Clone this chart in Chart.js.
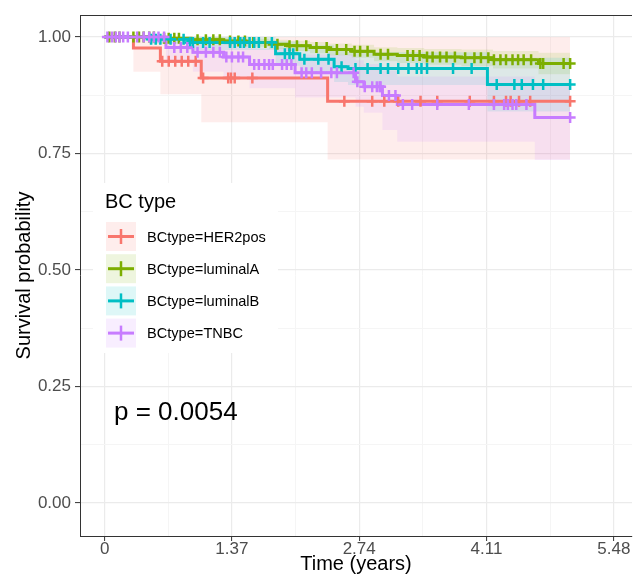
<!DOCTYPE html>
<html>
<head>
<meta charset="utf-8">
<script src="https://cdn.jsdelivr.net/npm/chart.js@4.4.1/dist/chart.umd.min.js"></script>
<style>
  html, body { margin: 0; padding: 0; background: #fff; }
</style>
</head>
<body>
<canvas id="km" width="640" height="574"></canvas>
<script>
const FONT = '"Liberation Sans", Arial, sans-serif';

// tick labels
const xTicks = [0, 1.37, 2.74, 4.11, 5.48];
const yTicks = [0, 0.25, 0.5, 0.75, 1];

// HER2pos
const her2Time  = [0, 0.31, 0.60, 1.04, 2.40, 5.01];
const her2Surv  = [1, 0.976, 0.948, 0.912, 0.862, 0.862];
const her2Lower = [1, 0.925, 0.877, 0.817, 0.737, 0.737];
const her2Upper = [1, 1, 1, 1, 1, 1];
const her2Censor = [0.62, 0.69, 0.76, 0.83, 0.90, 0.98, 1.06, 1.33, 1.36, 1.40, 1.59, 2.58, 2.88, 3.01,
  3.16, 3.40, 3.58, 3.93, 4.19, 4.32, 4.37, 4.46, 4.58, 5.01];

// luminalA
const lumATime  = [0, 0.59, 0.93, 1.28, 1.52, 1.77, 1.97, 2.21, 2.41, 2.66, 2.90, 3.15, 3.44, 3.84, 4.18, 4.67, 5.01];
const lumASurv  = [1, 0.997, 0.994, 0.991, 0.988, 0.984, 0.981, 0.977, 0.973, 0.969, 0.963, 0.960, 0.957, 0.955, 0.951, 0.943, 0.943];
const lumALower = [1, 0.993, 0.988, 0.983, 0.979, 0.974, 0.970, 0.965, 0.960, 0.955, 0.948, 0.944, 0.940, 0.937, 0.932, 0.920, 0.920];
const lumAUpper = [1, 1, 1, 0.998, 0.996, 0.994, 0.992, 0.989, 0.986, 0.983, 0.978, 0.976, 0.974, 0.973, 0.970, 0.966, 0.966];
const lumACensor = [0.05, 0.11, 0.16, 0.31, 0.37, 0.42, 0.48, 0.53, 0.64, 0.69, 0.75, 0.80, 1.00, 1.09, 1.17,
  1.24, 1.35, 1.44, 1.51, 1.60, 1.73, 1.86, 1.99, 2.07, 2.17, 2.28, 2.39, 2.50, 2.60, 2.69, 2.75, 2.83, 2.97,
  3.05, 3.26, 3.32, 3.39, 3.47, 3.53, 3.61, 3.68, 3.77, 3.88, 3.98, 4.05, 4.13, 4.19, 4.26, 4.32, 4.39, 4.45,
  4.51, 4.59, 4.69, 4.72, 4.94, 5.01];

// luminalB
const lumBTime  = [0, 0.48, 0.90, 1.84, 2.10, 2.47, 2.62, 4.12, 5.01];
const lumBSurv  = [1, 0.995, 0.988, 0.964, 0.952, 0.936, 0.932, 0.898, 0.898];
const lumBLower = [1, 0.985, 0.972, 0.938, 0.922, 0.903, 0.897, 0.840, 0.840];
const lumBUpper = [1, 1, 1, 0.990, 0.982, 0.970, 0.967, 0.955, 0.955];
const lumBCensor = [0.50, 0.55, 0.60, 0.71, 0.85, 0.92, 0.95, 1.06, 1.13, 1.35, 1.40, 1.46, 1.50, 1.56, 1.61,
  1.66, 1.80, 1.94, 1.99, 2.03, 2.15, 2.30, 2.41, 2.55, 2.70, 2.83, 2.97, 3.05, 3.16, 3.27, 3.36, 3.41, 3.47,
  3.75, 3.95, 4.22, 4.41, 4.49, 4.61, 4.72, 5.01];

// TNBC
const tnbcTime  = [0, 0.66, 0.95, 1.28, 1.56, 2.05, 2.70, 2.79, 2.99, 3.15, 4.63, 5.01];
const tnbcSurv  = [1, 0.977, 0.967, 0.957, 0.941, 0.923, 0.904, 0.893, 0.874, 0.855, 0.827, 0.827];
const tnbcLower = [1, 0.945, 0.925, 0.910, 0.890, 0.870, 0.850, 0.837, 0.800, 0.775, 0.736, 0.736];
const tnbcUpper = [1, 0.995, 0.990, 0.985, 0.975, 0.962, 0.950, 0.942, 0.928, 0.915, 0.895, 0.895];
const tnbcCensor = [0.03, 0.08, 0.12, 0.16, 0.20, 0.25, 0.35, 0.42, 0.48, 0.53, 0.58, 0.64, 0.75, 0.82, 0.89,
  1.00, 1.09, 1.17, 1.24, 1.31, 1.37, 1.44, 1.49, 1.61, 1.66, 1.72, 1.77, 1.81, 1.91, 1.96, 2.01, 2.12, 2.17,
  2.23, 2.33, 2.44, 2.50, 2.68, 2.72, 2.80, 2.88, 2.93, 2.96, 2.97, 3.06, 3.13, 3.21, 3.31, 3.58, 3.92, 4.19,
  4.30, 4.34, 4.39, 4.43, 4.54, 5.01];

const pValue = 'p = 0.0054';
const legendTitle = 'BC type';

const groups = [
  { name: 'BCtype=HER2pos',  rgb: [248, 118, 109], time: her2Time, surv: her2Surv, lower: her2Lower, upper: her2Upper, censor: her2Censor },
  { name: 'BCtype=luminalA', rgb: [124, 174, 0],   time: lumATime, surv: lumASurv, lower: lumALower, upper: lumAUpper, censor: lumACensor },
  { name: 'BCtype=luminalB', rgb: [0, 191, 196],   time: lumBTime, surv: lumBSurv, lower: lumBLower, upper: lumBUpper, censor: lumBCensor },
  { name: 'BCtype=TNBC',     rgb: [199, 124, 255], time: tnbcTime, surv: tnbcSurv, lower: tnbcLower, upper: tnbcUpper, censor: tnbcCensor }
];

const rgba = (c, a) => 'rgba(' + c.join(',') + ',' + a + ')';
const BAND_ALPHA = 0.13;

// survival value of a step curve at time t
function survAt(times, surv, t) {
  let v = surv[0];
  for (let i = 0; i < times.length; i++) {
    if (times[i] <= t + 1e-9) v = surv[i];
  }
  return v;
}

const datasets = [];
groups.forEach((g, i) => {
  const top = 3 - i; // later groups drawn on top
  const lowerIdx = datasets.length;
  datasets.push({
    data: g.time.map((t, k) => ({ x: t, y: g.lower[k] })),
    stepped: 'before', borderWidth: 0, pointRadius: 0, fill: false, order: 30 + top
  });
  datasets.push({
    data: g.time.map((t, k) => ({ x: t, y: g.upper[k] })),
    stepped: 'before', borderWidth: 0, pointRadius: 0,
    fill: lowerIdx, backgroundColor: rgba(g.rgb, BAND_ALPHA), order: 30 + top
  });
  datasets.push({
    data: g.time.map((t, k) => ({ x: t, y: g.surv[k] })),
    stepped: 'before', borderColor: rgba(g.rgb, 1), borderWidth: 3,
    pointRadius: 0, fill: false, order: 20 + top
  });
  datasets.push({
    data: g.censor.map(t => ({ x: t, y: survAt(g.time, g.surv, t) })),
    showLine: false, pointStyle: 'cross', pointRadius: 5.5, pointHoverRadius: 5.5,
    pointBorderWidth: 2.5, pointBorderColor: rgba(g.rgb, 1), order: 10 + top
  });
});

const xMinor = xTicks.slice(0, -1).map((v, i) => (v + xTicks[i + 1]) / 2);
const yMinor = yTicks.slice(0, -1).map((v, i) => (v + yTicks[i + 1]) / 2);
const isMajor = (arr, v) => arr.some(a => Math.abs(a - v) < 1e-9);

const overlay = {
  id: 'overlay',
  afterDraw(chart) {
    const ctx = chart.ctx;
    const area = chart.chartArea;
    ctx.save();
    // top panel border
    ctx.strokeStyle = '#333';
    ctx.lineWidth = 1;
    ctx.beginPath();
    ctx.moveTo(area.left, area.top + 0.5);
    ctx.lineTo(area.right, area.top + 0.5);
    ctx.stroke();

    // legend
    ctx.fillStyle = '#fff';
    ctx.fillRect(93, 183, 185, 170);
    ctx.fillStyle = '#000';
    ctx.textBaseline = 'middle';
    ctx.font = '20px ' + FONT;
    ctx.fillText(legendTitle, 105, 202);
    ctx.font = '14.6px ' + FONT;
    groups.forEach((g, i) => {
      const ky = 222 + i * 32.2;
      const cy = ky + 14.5;
      ctx.fillStyle = rgba(g.rgb, BAND_ALPHA);
      ctx.fillRect(106, ky, 30, 29);
      ctx.strokeStyle = rgba(g.rgb, 1);
      ctx.lineWidth = 3;
      ctx.beginPath();
      ctx.moveTo(108, cy); ctx.lineTo(134, cy);
      ctx.stroke();
      ctx.lineWidth = 2.5;
      ctx.beginPath();
      ctx.moveTo(121, cy - 7.5); ctx.lineTo(121, cy + 7.5);
      ctx.stroke();
      ctx.fillStyle = '#000';
      ctx.fillText(g.name, 147, cy + 1);
    });

    // p-value
    ctx.font = '26px ' + FONT;
    ctx.textBaseline = 'alphabetic';
    ctx.fillText(pValue, 114, 420);
    ctx.restore();
  }
};

new Chart(document.getElementById('km'), {
  type: 'line',
  data: { datasets },
  options: {
    responsive: false,
    animation: false,
    layout: { padding: { top: 15, right: 0, left: 0, bottom: 0 } },
    plugins: {
      legend: { display: false },
      tooltip: { enabled: false },
      filler: { drawTime: 'beforeDatasetsDraw' }
    },
    scales: {
      x: {
        type: 'linear',
        min: -0.265,
        max: 5.676,
        afterBuildTicks: axis => { axis.ticks = xTicks.concat(xMinor).sort((a, b) => a - b).map(v => ({ value: v })); },
        afterFit: axis => { axis.height = 38; },
        ticks: {
          autoSkip: false, maxRotation: 0, padding: -2,
          color: '#4d4d4d', font: { family: FONT, size: 17 },
          callback: v => isMajor(xTicks, v) ? String(v) : ''
        },
        grid: {
          color: c => c.tick && isMajor(xTicks, c.tick.value) ? '#ebebeb' : '#f5f5f5',
          lineWidth: c => c.tick && isMajor(xTicks, c.tick.value) ? 1.2 : 1,
          tickColor: c => c.tick && isMajor(xTicks, c.tick.value) ? '#333' : 'rgba(0,0,0,0)',
          tickLength: 5,
          tickWidth: 1
        },
        border: { color: '#333', width: 1 },
        title: {
          display: true, text: 'Time (years)', color: '#000',
          font: { family: FONT, size: 20 }, padding: { top: 0, bottom: -2 }
        }
      },
      y: {
        type: 'linear',
        min: -0.071,
        max: 1.047,
        afterBuildTicks: axis => { axis.ticks = yTicks.concat(yMinor).sort((a, b) => a - b).map(v => ({ value: v })); },
        afterFit: axis => { axis.width = 80; },
        ticks: {
          autoSkip: false, padding: 4,
          color: '#4d4d4d', font: { family: FONT, size: 17 },
          callback: v => isMajor(yTicks, v) ? v.toFixed(2) : ''
        },
        grid: {
          color: c => c.tick && isMajor(yTicks, c.tick.value) ? '#ebebeb' : '#f5f5f5',
          lineWidth: c => c.tick && isMajor(yTicks, c.tick.value) ? 1.2 : 1,
          tickColor: c => c.tick && isMajor(yTicks, c.tick.value) ? '#333' : 'rgba(0,0,0,0)',
          tickLength: 5,
          tickWidth: 1
        },
        border: { color: '#333', width: 1 },
        title: {
          display: true, text: 'Survival probability', color: '#000',
          font: { family: FONT, size: 20 }, padding: { top: 12, bottom: 0 }
        }
      }
    }
  },
  plugins: [overlay]
});
</script>
</body>
</html>
